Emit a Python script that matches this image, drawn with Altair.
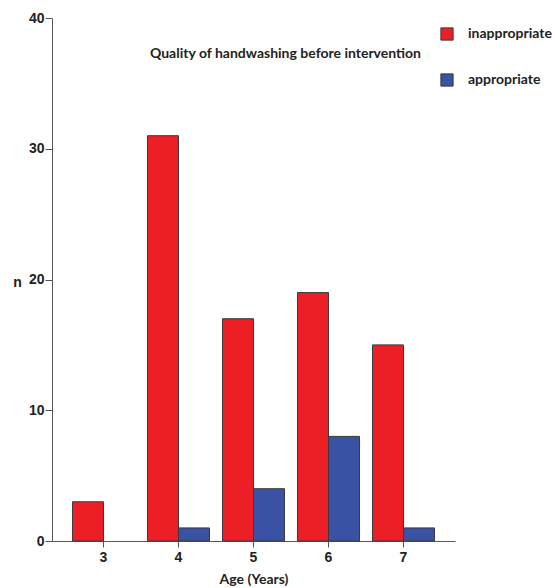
import altair as alt
import pandas as pd

ages = ["3", "4", "5", "6", "7"]
inappropriate = [3, 31, 17, 19, 15]
appropriate = [0, 1, 4, 8, 1]
groups = ["inappropriate", "appropriate"]
colors = ["#EC1F26", "#3A52A3"]

rows = []
for a, v1, v2 in zip(ages, inappropriate, appropriate):
    rows.append({"age": a, "quality": groups[0], "n": v1})
    rows.append({"age": a, "quality": groups[1], "n": v2})
df = pd.DataFrame(rows)

FONT_NUM = "Liberation Sans"
FONT_TXT = "Lato"

bars = alt.Chart(df).transform_filter(alt.datum.n > 0).mark_bar(
    stroke="#3a3a3a", strokeWidth=1
).encode(
    x=alt.X("age:N", sort=ages,
            scale=alt.Scale(paddingInner=0.173, paddingOuter=0.273),
            axis=alt.Axis(title="Age (Years)", labelAngle=0, grid=False,
                          domainColor="#555", tickColor="#555", tickSize=6,
                          labelFont=FONT_NUM, labelFontSize=14, labelFontWeight="bold",
                          labelColor="#222", labelPadding=3,
                          titleFont=FONT_TXT, titleFontSize=14, titleFontWeight="bold",
                          titleColor="#222", titlePadding=8)),
    xOffset=alt.XOffset("quality:N", sort=groups, scale=alt.Scale(paddingInner=0, paddingOuter=0)),
    y=alt.Y("n:Q", scale=alt.Scale(domain=[0, 40]),
            axis=alt.Axis(values=[0, 10, 20, 30, 40], grid=False, title="n",
                          titleAngle=0, titleX=-35, titleY=264, titleAlign="center",
                          titleBaseline="middle",
                          domainColor="#555", tickColor="#555", tickSize=7,
                          labelFont=FONT_NUM, labelFontSize=14, labelFontWeight="bold",
                          labelColor="#222", labelPadding=1,
                          titleFont=FONT_NUM, titleFontSize=14, titleFontWeight="bold",
                          titleColor="#222")),
    color=alt.Color("quality:N", sort=groups,
                    scale=alt.Scale(domain=groups, range=colors),
                    legend=alt.Legend(title=None, orient="none", legendX=388, legendY=9,
                                      symbolType="square", symbolSize=150,
                                      symbolStrokeColor="#3a3a3a", symbolStrokeWidth=1,
                                      labelFont=FONT_TXT, labelFontSize=14,
                                      labelFontWeight="bold", labelColor="#222",
                                      labelOffset=14, rowPadding=28)),
)

title_df = pd.DataFrame({"t": ["Quality of handwashing before intervention"]})
title = alt.Chart(title_df).mark_text(
    font=FONT_TXT, fontSize=14, fontWeight="bold", color="#222",
    align="left", baseline="middle"
).encode(text="t:N", x=alt.value(98), y=alt.value(36))

chart = alt.layer(bars, title).properties(
    width=403, height=523,
    autosize=alt.AutoSizeParams(type="none"),
    padding={"left": 52, "top": 18, "right": 100, "bottom": 47},
).configure(background="white").configure_view(stroke=None, strokeWidth=0)

chart.save("out.html", embed_options={"renderer": "svg", "actions": False})
